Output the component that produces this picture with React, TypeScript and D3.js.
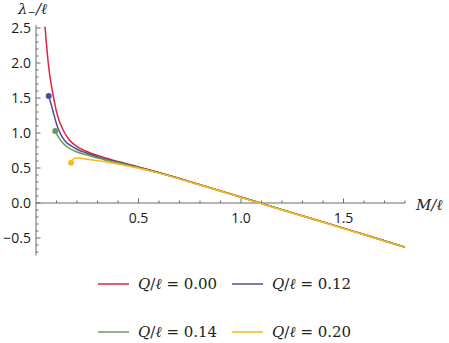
import React from "react";
import * as d3 from "d3";

const W = 449;
const H = 343;

const xTicks = [0.5, 1.0, 1.5];
const yTicks = [-0.5, 0.0, 0.5, 1.0, 1.5, 2.0, 2.5];
const legendLabels = ["0.00", "0.12", "0.14", "0.20"];
const colors = ["#E3213E", "#4C4F9C", "#679E5F", "#FDB913"];

const redM = [0.044, 0.05, 0.058, 0.066, 0.075, 0.085, 0.098, 0.11, 0.122, 0.14, 0.163, 0.2, 0.244, 0.3, 0.36, 0.43, 0.5, 0.6, 0.8, 1.0, 1.2, 1.4, 1.6, 1.8];
const redL = [2.52, 2.3, 2.05, 1.85, 1.68, 1.52, 1.33, 1.2, 1.11, 1.0, 0.9, 0.805, 0.74, 0.68, 0.627, 0.57, 0.515, 0.435, 0.262, 0.085, -0.095, -0.27, -0.45, -0.63];

const blueM = [0.062, 0.068, 0.075, 0.085, 0.098, 0.11, 0.125, 0.146, 0.17, 0.2, 0.244, 0.3, 0.36, 0.43, 0.5, 0.6, 0.8, 1.0, 1.2, 1.4, 1.6, 1.8];
const blueL = [1.53, 1.47, 1.4, 1.29, 1.15, 1.05, 0.96, 0.87, 0.82, 0.768, 0.715, 0.66, 0.612, 0.563, 0.51, 0.432, 0.26, 0.083, -0.096, -0.272, -0.451, -0.631];

const greenM = [0.094, 0.1, 0.11, 0.122, 0.14, 0.163, 0.2, 0.244, 0.3, 0.36, 0.43, 0.5, 0.6, 0.8, 1.0, 1.2, 1.4, 1.6, 1.8];
const greenL = [1.03, 0.99, 0.94, 0.89, 0.83, 0.78, 0.728, 0.69, 0.643, 0.6, 0.555, 0.505, 0.43, 0.259, 0.082, -0.097, -0.273, -0.452, -0.632];

const yellowM = [0.171, 0.176, 0.182, 0.195, 0.22, 0.244, 0.3, 0.36, 0.43, 0.5, 0.6, 0.8, 1.0, 1.2, 1.4, 1.6, 1.8];
const yellowL = [0.576, 0.605, 0.628, 0.643, 0.638, 0.628, 0.605, 0.578, 0.54, 0.497, 0.427, 0.257, 0.08, -0.099, -0.275, -0.454, -0.634];

const seriesM = [redM, blueM, greenM, yellowM];
const seriesL = [redL, blueL, greenL, yellowL];
const hasDot = [false, true, true, true];

export default function App() {
  const x = d3.scaleLinear().domain([0, 1.8]).range([36, 405]);
  const y = d3.scaleLinear().domain([0, 2.5]).range([203, 28]);
  const line = d3
    .line<[number, number]>()
    .x((d) => x(d[0]))
    .y((d) => y(d[1]))
    .curve(d3.curveMonotoneX);

  const xMinor = d3.range(1, 19).map((i) => i / 10);
  const yMinor = d3.range(-7, 26).map((i) => i / 10);
  const axisColor = "#6b6b6b";
  const tickFont = "'Open Sans', 'DejaVu Sans', sans-serif";
  const mathFont = "'DejaVu Serif', 'Liberation Serif', serif";

  const legendPos = [
    { lx: 98, ty: 284 },
    { lx: 232, ty: 284 },
    { lx: 98, ty: 332 },
    { lx: 232, ty: 332 },
  ];

  return (
    <svg width={W} height={H} style={{ position: "absolute", left: 0, top: 0, background: "#fff" }}>
      {/* axes */}
      <line x1={x(0)} x2={x(0)} y1={y(2.54)} y2={y(-0.75)} stroke={axisColor} strokeWidth={1} />
      <line x1={x(0)} x2={x(1.8)} y1={y(0)} y2={y(0)} stroke={axisColor} strokeWidth={1} />
      {xMinor.map((t) => {
        const major = Math.abs(t * 2 - Math.round(t * 2)) < 1e-6;
        return (
          <line key={"xm" + t} x1={x(t)} x2={x(t)} y1={y(0)} y2={y(0) - (major ? 4.5 : 2.5)} stroke={axisColor} strokeWidth={1} />
        );
      })}
      {yMinor.map((t) => {
        const major = Math.abs(t * 2 - Math.round(t * 2)) < 1e-6;
        return (
          <line key={"ym" + t} x1={x(0)} x2={x(0) + (major ? 4.5 : 2.5)} y1={y(t)} y2={y(t)} stroke={axisColor} strokeWidth={1} />
        );
      })}
      {xTicks.map((t) => (
        <text key={"xt" + t} x={x(t)} y={223} textAnchor="middle" fontFamily={tickFont} fontSize={14} fill="#1a1a1a">
          {t.toFixed(1)}
        </text>
      ))}
      {yTicks.map((t) => (
        <text key={"yt" + t} x={31} y={y(t) + 5} textAnchor="end" fontFamily={tickFont} fontSize={14} fill="#1a1a1a">
          {t < 0 ? "\u2212" + Math.abs(t).toFixed(1) : t.toFixed(1)}
        </text>
      ))}
      {/* axis labels */}
      <text x={18} y={14} fontFamily={mathFont} fontSize={15} fontStyle="italic" fill="#222">
        λ<tspan fontSize={10} dy={2} fontStyle="normal">−</tspan>
        <tspan dy={-2}>/ℓ</tspan>
      </text>
      <text x={416} y={210} fontFamily={mathFont} fontSize={15} fontStyle="italic" fill="#222">
        M/ℓ
      </text>

      {/* curves */}
      {seriesM.map((ms, i) => {
        const pts: [number, number][] = ms.map((m, j) => [m, seriesL[i][j]]);
        return (
          <g key={"s" + i}>
            <path d={line(pts) || ""} fill="none" stroke={colors[i]} strokeWidth={1.5} />
            {hasDot[i] && <circle cx={x(ms[0])} cy={y(seriesL[i][0])} r={3} fill={colors[i]} />}
          </g>
        );
      })}

      {/* legend */}
      {legendLabels.map((lab, i) => {
        const p = legendPos[i];
        return (
          <g key={"lg" + i}>
            <line x1={p.lx} x2={p.lx + 31} y1={p.ty} y2={p.ty} stroke={colors[i]} strokeWidth={1.5} />
            <text x={p.lx + 40} y={p.ty + 5} fontFamily={mathFont} fontSize={15} fill="#222">
              <tspan fontStyle="italic">Q</tspan>
              <tspan>/</tspan>
              <tspan fontStyle="italic">ℓ</tspan>
              <tspan> = {lab}</tspan>
            </text>
          </g>
        );
      })}
    </svg>
  );
}
